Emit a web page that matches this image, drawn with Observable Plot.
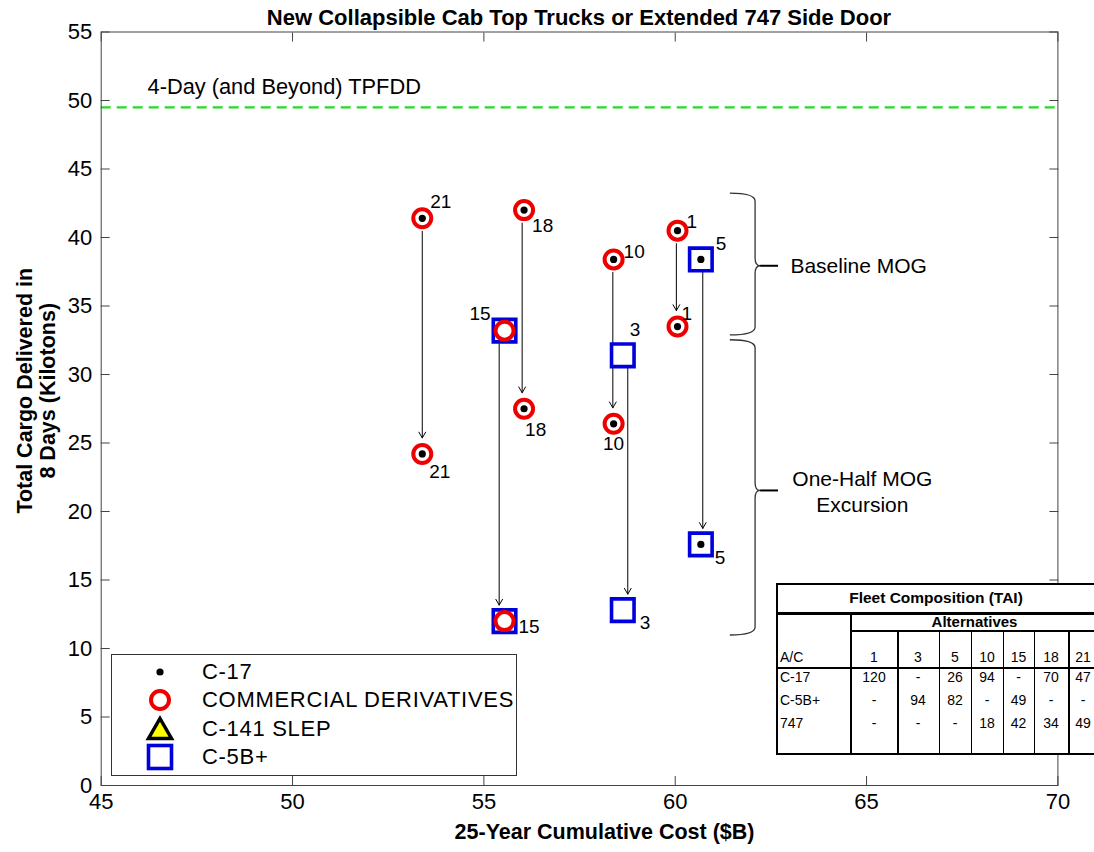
<!DOCTYPE html>
<html><head><meta charset="utf-8">
<script src="https://cdn.jsdelivr.net/npm/d3@7"></script>
<script src="https://cdn.jsdelivr.net/npm/@observablehq/plot@0.6"></script>
<style>
html,body{margin:0;padding:0;background:#fff;overflow:hidden;}
#wrap{position:relative;width:1094px;height:852px;overflow:hidden;font-family:"Liberation Sans",Arial,sans-serif;color:#000;}
#title{position:absolute;left:100px;width:958px;top:5px;text-align:center;font-weight:bold;font-size:22px;line-height:26px;}
#chart{position:absolute;left:0;top:0;}
#legend{position:absolute;left:111px;top:654px;width:404px;height:120px;border:1px solid #333;background:#fff;}
#legend .sym{position:absolute;left:28px;width:40px;height:30px;}
#legend .lab{position:absolute;left:90px;height:30px;line-height:30px;font-size:22px;letter-spacing:0.7px;white-space:nowrap;}
#table{position:absolute;left:776px;top:583px;width:330px;height:172px;background:#fff;}
#table .tl{position:absolute;background:#000;}
#table .tt{position:absolute;height:20px;line-height:20px;font-size:14px;white-space:nowrap;}
</style></head>
<body><div id="wrap"><div id="chart"></div><div id="title"></div><div id="legend"></div><div id="table"></div></div>
<script>
// ---------------- data ----------------
const chartTitle = "New Collapsible Cab Top Trucks or Extended 747 Side Door";
const xLabel = "25-Year Cumulative Cost ($B)";
const yLabel = "Total Cargo Delivered in\n8 Days (Kilotons)";
const xTicks = [45, 50, 55, 60, 65, 70];
const yTicks = [0, 5, 10, 15, 20, 25, 30, 35, 40, 45, 50, 55];

const alternatives = ["21", "18", "15", "10", "3", "1", "5"];
const cost = [53.39, 56.05, 55.54, 58.39, 58.63, 60.06, 60.67];
const arrowCost = [53.39, 56.00, 55.40, 58.37, 58.76, 60.03, 60.72];
const cargoBaseline = [41.4, 42.0, 33.2, 38.4, 31.4, 40.5, 38.4];
const cargoHalfMOG = [24.2, 27.5, 12.0, 26.4, 12.8, 33.5, 17.6];
const hasC17 = [true, true, false, true, false, true, true];
const hasCommercial = [true, true, true, true, false, true, false];
const hasC5 = [false, false, true, false, true, false, true];

const tpfddLevel = 49.5;
const tpfddLabel = "4-Day (and Beyond) TPFDD";

const braceLabels = ["Baseline MOG", "One-Half MOG\nExcursion"];
const braceTop = [43.2, 32.5];
const braceBottom = [32.85, 10.95];
const braceTip = [37.9, 21.5];

const legendNames = ["C-17", "COMMERCIAL DERIVATIVES", "C-141 SLEP", "C-5B+"];

const tableTitle = "Fleet Composition (TAI)";
const tableGroup = "Alternatives";
const tableRowHeader = "A/C";
const tableAlternatives = ["1", "3", "5", "10", "15", "18", "21"];
const tableAircraft = ["C-17", "C-5B+", "747"];
const tableC17 = ["120", "-", "26", "94", "-", "70", "47"];
const tableC5 = ["-", "94", "82", "-", "49", "-", "-"];
const table747 = ["-", "-", "-", "18", "42", "34", "49"];

// ---------------- build ----------------
const RED = "#ee0000", BLUE = "#0000dd", GREEN = "#22dd22";
const FONT = "Liberation Sans, Arial, sans-serif";

const points = alternatives.flatMap((a, i) => [
  {alt: a, level: "base", cost: cost[i], cargo: cargoBaseline[i], c17: hasC17[i], com: hasCommercial[i], c5: hasC5[i]},
  {alt: a, level: "half", cost: cost[i], cargo: cargoHalfMOG[i], c17: hasC17[i], com: hasCommercial[i], c5: hasC5[i]}
]);
const arrows = alternatives.map((a, i) => ({x: arrowCost[i], y1: cargoBaseline[i], y2: cargoHalfMOG[i]}));

const labelPlacement = {
  "21base": [8, -16, "start"], "21half": [7, 18, "start"],
  "18base": [8, 16, "start"], "18half": [1, 21, "start"],
  "15base": [-14, -17, "end"], "15half": [14, 6, "start"],
  "10base": [10, -8, "start"], "10half": [0, 20, "middle"],
  "3base": [7, -25, "start"], "3half": [17, 13, "start"],
  "1base": [9, -9, "start"], "1half": [4, -13, "start"],
  "5base": [15, -16, "start"], "5half": [14, 14, "start"]
};
const numberLabels = points.map(p => {
  const [dx, dy, anchor] = labelPlacement[p.alt + p.level];
  return Plot.text([p], {x: "cost", y: "cargo", text: "alt", dx, dy, textAnchor: anchor, fontSize: 19, fill: "black"});
});

const braceMark = (index, {x, y}) => {
  const g = d3.create("svg:g").attr("fill", "none");
  braceLabels.forEach((name, i) => {
    const x0 = x(61.44), xs = x(62.1), xt = x(62.23), xe = x(62.7);
    const yt = y(braceTop[i]), yb = y(braceBottom[i]), ym = y(braceTip[i]);
    const c = 8;
    g.append("path")
      .attr("d", `M${x0},${yt} Q${xs},${yt} ${xs},${yt + c} L${xs},${ym - c} Q${xs},${ym} ${xt},${ym} Q${xs},${ym} ${xs},${ym + c} L${xs},${yb - c} Q${xs},${yb} ${x0},${yb}`)
      .attr("stroke", "#333").attr("stroke-width", 1.3);
    g.append("line").attr("x1", xt).attr("x2", xe).attr("y1", ym).attr("y2", ym)
      .attr("stroke", "#000").attr("stroke-width", 2);
  });
  return g.node();
};

const braceText = braceLabels.map((name, i) =>
  i === 0
    ? Plot.text([name], {x: 63.01, y: braceTip[i], text: d => d, textAnchor: "start", fontSize: 21})
    : Plot.text([name], {x: 64.89, y: braceTip[i], text: d => d, textAnchor: "middle", fontSize: 21, lineHeight: 1.2})
);

const chart = Plot.plot({
  width: 1094, height: 852,
  marginLeft: 100.7, marginRight: 36.6, marginTop: 31.5, marginBottom: 67,
  x: {domain: [45, 70]},
  y: {domain: [0, 55]},
  style: {fontFamily: FONT, fontSize: "22px", color: "black", background: "transparent", overflow: "visible"},
  marks: [
    Plot.ruleY([tpfddLevel], {stroke: GREEN, strokeWidth: 2.2, strokeDasharray: "10,6"}),
    Plot.text([tpfddLabel], {x: 46.21, y: 51.0, text: d => d, textAnchor: "start", fontSize: 21.8}),
    Plot.frame({stroke: "#444"}),
    Plot.axisX(xTicks, {anchor: "bottom", tickSize: -9, tickPadding: 17, fontSize: 22, stroke: "#444", label: null, tickFormat: d => d}),
    Plot.axisX(xTicks, {anchor: "top", tickSize: -9, stroke: "#444", label: null, tickFormat: () => ""}),
    Plot.axisY(yTicks, {anchor: "left", tickSize: -9, tickPadding: 18, fontSize: 22, stroke: "#444", label: null, tickFormat: d => d}),
    Plot.axisY(yTicks, {anchor: "right", tickSize: -9, stroke: "#444", label: null, tickFormat: () => ""}),
    Plot.text([xLabel], {frameAnchor: "bottom", dx: 25, dy: 53, text: d => d, fontWeight: "bold", fontSize: 21.5}),
    Plot.text([yLabel], {frameAnchor: "left", textAnchor: "middle", dx: -65, dy: -18, rotate: -90, text: d => d, fontWeight: "bold", fontSize: 21.5, lineHeight: 1.07}),
    Plot.arrow(arrows, {x1: "x", x2: "x", y1: "y1", y2: "y2", insetStart: 13, insetEnd: 16, headLength: 10, stroke: "black", strokeWidth: 1}),
    Plot.dot(points.filter(d => d.c5), {x: "cost", y: "cargo", symbol: "square", r: 12.7, stroke: BLUE, strokeWidth: 3.6, fill: "white"}),
    Plot.dot(points.filter(d => d.com), {x: "cost", y: "cargo", r: 9, stroke: RED, strokeWidth: 4, fill: "white"}),
    Plot.dot(points.filter(d => d.c17), {x: "cost", y: "cargo", r: 3.6, fill: "black", stroke: "none"}),
    ...numberLabels,
    braceMark,
    ...braceText
  ]
});
document.getElementById("chart").appendChild(chart);
document.getElementById("title").textContent = chartTitle;

// legend
const legendSymbols = [
  `<circle cx="20" cy="15" r="3.6" fill="#000"/>`,
  `<circle cx="20" cy="15" r="9" fill="none" stroke="${RED}" stroke-width="4"/>`,
  `<path d="M20,4.5 L31.5,24.5 L8.5,24.5 Z" fill="#ffff00" stroke="#000" stroke-width="3.5"/>`,
  `<rect x="8.5" y="3.5" width="23" height="23" fill="none" stroke="${BLUE}" stroke-width="3.6"/>`
];
const legend = document.getElementById("legend");
legendNames.forEach((name, i) => {
  const cy = 17 + i * 28.4;
  const s = document.createElement("div"); s.className = "sym"; s.style.top = (cy - 15) + "px";
  s.innerHTML = `<svg width="40" height="30">${legendSymbols[i]}</svg>`;
  const t = document.createElement("div"); t.className = "lab"; t.style.top = (cy - 15) + "px";
  t.textContent = name;
  legend.appendChild(s); legend.appendChild(t);
});

// table
const tbl = document.getElementById("table");
function tline(x, y, w, h) {
  const d = document.createElement("div"); d.className = "tl";
  Object.assign(d.style, {left: x + "px", top: y + "px", width: w + "px", height: h + "px"});
  tbl.appendChild(d);
}
function ttext(txt, x0, x1, cy, opts = {}) {
  const d = document.createElement("div"); d.className = "tt";
  d.textContent = txt;
  Object.assign(d.style, {left: x0 + "px", width: (x1 - x0) + "px", top: (cy - 10) + "px", textAlign: opts.align || "center"});
  if (opts.bold) { d.style.fontWeight = "bold"; d.style.fontSize = opts.size + "px"; }
  tbl.appendChild(d);
}
const colEdges = [0, 75, 121, 163, 195, 227, 258, 292, 322];
tline(0, 0, 330, 2);
tline(0, 29, 330, 2.5);
tline(75, 47, 255, 1.5);
tline(0, 84, 330, 1.5);
tline(0, 170, 330, 2);
tline(0, 0, 2, 172);
tline(74, 29, 2, 143);
colEdges.slice(2, 8).forEach((x, k) => tline(x, 47, (k === 0 || k === 5) ? 2 : 1, 125));
ttext(tableTitle, 0, 320, 14.5, {bold: true, size: 15.5});
ttext(tableGroup, 75, 322, 38.5, {bold: true, size: 15});
ttext(tableRowHeader, 4, 75, 74, {align: "left"});
tableAlternatives.forEach((a, j) => ttext(a, colEdges[j + 1], colEdges[j + 2], 74));
[tableC17, tableC5, table747].forEach((row, r) => {
  const cy = [94, 117, 140][r];
  ttext(tableAircraft[r], 4, 75, cy, {align: "left"});
  row.forEach((v, j) => ttext(v, colEdges[j + 1], colEdges[j + 2], cy));
});
</script>
</body></html>
